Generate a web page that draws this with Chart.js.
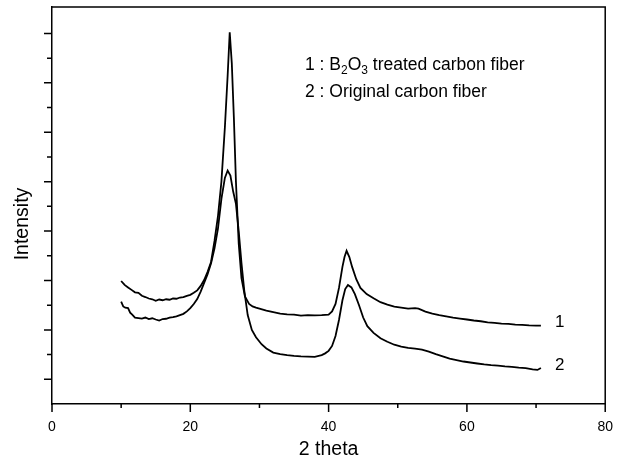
<!DOCTYPE html>
<html>
<head>
<meta charset="utf-8">
<script src="https://cdn.jsdelivr.net/npm/chart.js@4"></script>
<style>
html, body { margin: 0; padding: 0; background: #fff; }
#wrap { width: 628px; height: 461px; }
</style>
</head>
<body>
<div id="wrap"><canvas id="xrdChart" width="628" height="461"></canvas></div>
<script>
// curve 1 : B2O3 treated carbon fiber
const theta1 = [10, 10.5, 11, 11.5, 12, 12.5, 13, 13.5, 14, 14.5, 15, 15.5, 16, 16.5, 17, 17.5, 18, 18.5, 19, 19.5,
    20, 20.5, 21, 21.5, 22, 22.5, 23, 23.5, 24, 24.5, 25, 25.4, 25.7, 26.0, 26.3, 26.6, 27.0, 27.4, 27.9, 28.5,
    29, 29.5, 30, 31, 32, 33, 34, 35, 36, 37, 38, 39, 40, 40.5, 41, 41.5, 42, 42.3, 42.6, 43,
    43.4, 44, 44.6, 45.5, 46.5, 47.5, 48.5, 49.5, 50.5, 51.5, 52.5, 53, 54, 55, 56, 57, 58, 59, 60, 61,
    62, 63, 64, 65, 66, 67, 68, 69, 70, 70.7];
const intensity1 = [4.98, 4.82, 4.72, 4.62, 4.52, 4.5, 4.38, 4.33, 4.27, 4.24, 4.18, 4.23, 4.2, 4.24, 4.22, 4.27, 4.26, 4.31, 4.33, 4.38,
    4.42, 4.5, 4.6, 4.78, 5.02, 5.35, 5.75, 6.6, 7.6, 9.0, 11.2, 13.3, 15.05, 13.8, 11.6, 9.0, 6.5, 5.1, 4.35, 4.05,
    3.95, 3.9, 3.86, 3.78, 3.72, 3.66, 3.63, 3.62, 3.58, 3.6, 3.59, 3.6, 3.62, 3.75, 4.05, 4.7, 5.55, 5.95, 6.2, 5.95,
    5.55, 5.05, 4.7, 4.45, 4.28, 4.12, 4.02, 3.94, 3.9, 3.86, 3.88, 3.86, 3.74, 3.66, 3.6, 3.55, 3.5, 3.46, 3.42, 3.38,
    3.35, 3.3, 3.28, 3.25, 3.24, 3.21, 3.2, 3.18, 3.17, 3.17];

// curve 2 : original carbon fiber
const theta2 = [10, 10.3, 10.6, 11, 11.3, 11.6, 12, 12.5, 13, 13.5, 14, 14.5, 15, 15.5, 16, 16.5, 17, 17.5, 18, 18.5,
    19, 19.5, 20, 20.5, 21, 21.5, 22, 22.5, 23, 23.5, 24, 24.5, 25, 25.4, 25.8, 26.2, 26.6, 27.0, 27.4, 27.8,
    28.3, 28.9, 29.5, 30.3, 31, 32, 33, 34, 35, 36, 37, 38, 39, 39.5, 40, 40.5, 41, 41.5, 42, 42.4,
    42.8, 43.3, 43.8, 44.4, 45, 45.6, 46.5, 47.5, 48.5, 49.5, 50.5, 51.5, 52.5, 53.5, 54.5, 55.5, 56.5, 57.5, 58.5, 59.5,
    60.5, 61.5, 62.5, 63.5, 64.5, 65.5, 66.5, 67.5, 68.5, 69.5, 70.2, 70.7];
const intensity2 = [4.14, 3.95, 3.9, 3.88, 3.7, 3.62, 3.5, 3.48, 3.46, 3.5, 3.44, 3.47, 3.42, 3.38, 3.44, 3.45, 3.5, 3.52, 3.55, 3.6,
    3.65, 3.75, 3.88, 4.05, 4.25, 4.55, 4.9, 5.25, 5.7, 6.3, 7.1, 8.3, 9.15, 9.45, 9.25, 8.6, 8.1, 7.0, 5.7, 4.6,
    3.6, 3.0, 2.7, 2.42, 2.25, 2.08, 2.02, 1.98, 1.95, 1.93, 1.92, 1.91, 1.98, 2.05, 2.15, 2.35, 2.75, 3.4, 4.2, 4.65,
    4.82, 4.72, 4.45, 4.0, 3.5, 3.15, 2.88, 2.66, 2.52, 2.4, 2.32, 2.27, 2.24, 2.2, 2.12, 2.02, 1.93, 1.84, 1.78, 1.72,
    1.68, 1.64, 1.6, 1.57, 1.55, 1.52, 1.5, 1.47, 1.45, 1.4, 1.38, 1.46];

const curveLabels = ["1", "2"];
const xMajorTicks = [0, 20, 40, 60, 80];
const xMinorTicks = [10, 30, 50, 70];
const yTicks = [1, 2, 3, 4, 5, 6, 7, 8, 9, 10, 11, 12, 13, 14, 15];

const FONT = "'Liberation Sans', Arial, sans-serif";

function toPoints(xs, ys) {
    return xs.map((x, i) => ({ x: x, y: ys[i] }));
}

// axes box, tick marks and annotation texts
const extrasPlugin = {
    id: "extras",
    afterDraw(chart) {
        const ctx = chart.ctx;
        const area = chart.chartArea;
        const xs = chart.scales.x;
        const ys = chart.scales.y;

        ctx.save();
        ctx.strokeStyle = "#000";
        ctx.lineWidth = 1.5;

        ctx.beginPath();
        ctx.moveTo(area.left, area.top);
        ctx.lineTo(area.right, area.top);
        ctx.lineTo(area.right, area.bottom);
        ctx.stroke();

        ctx.beginPath();
        xMajorTicks.forEach(v => {
            const px = xs.getPixelForValue(v);
            ctx.moveTo(px, area.bottom);
            ctx.lineTo(px, area.bottom + 8);
        });
        xMinorTicks.forEach(v => {
            const px = xs.getPixelForValue(v);
            ctx.moveTo(px, area.bottom);
            ctx.lineTo(px, area.bottom + 4);
        });
        yTicks.forEach(v => {
            const py = ys.getPixelForValue(v);
            const len = v % 2 === 1 ? 8 : 5;
            ctx.moveTo(area.left, py);
            ctx.lineTo(area.left - len, py);
        });
        ctx.stroke();

        ctx.fillStyle = "#000";

        // y title
        ctx.save();
        ctx.translate(23, 224);
        ctx.rotate(-Math.PI / 2);
        ctx.font = "19.5px " + FONT;
        ctx.textAlign = "center";
        ctx.textBaseline = "middle";
        ctx.fillText("Intensity", 0, 0);
        ctx.restore();

        // legend lines
        ctx.textAlign = "left";
        ctx.textBaseline = "alphabetic";
        let x = 305;
        const base1 = 70;
        const parts = [
            ["1 : B", 17.5, 0],
            ["2", 12, 4],
            ["O", 17.5, 0],
            ["3", 12, 4],
            [" treated carbon fiber", 17.5, 0]
        ];
        parts.forEach(p => {
            ctx.font = p[1] + "px " + FONT;
            ctx.fillText(p[0], x, base1 + p[2]);
            x += ctx.measureText(p[0]).width;
        });
        ctx.font = "17.5px " + FONT;
        ctx.fillText("2 : Original carbon fiber", 305, 97);

        // curve end labels
        ctx.textBaseline = "middle";
        ctx.font = "17px " + FONT;
        chart.data.datasets.forEach((ds, i) => {
            const last = ds.data[ds.data.length - 1];
            ctx.fillText(curveLabels[i], xs.getPixelForValue(last.x) + 14, ys.getPixelForValue(last.y) - 3);
        });

        ctx.restore();
    }
};

new Chart(document.getElementById("xrdChart"), {
    type: "line",
    data: {
        datasets: [
            {
                label: "B2O3 treated carbon fiber",
                data: toPoints(theta1, intensity1),
                borderColor: "#000",
                borderWidth: 1.8,
                pointRadius: 0,
                tension: 0,
                fill: false
            },
            {
                label: "Original carbon fiber",
                data: toPoints(theta2, intensity2),
                borderColor: "#000",
                borderWidth: 1.8,
                pointRadius: 0,
                tension: 0,
                fill: false
            }
        ]
    },
    options: {
        responsive: false,
        animation: false,
        devicePixelRatio: 1,
        layout: {
            padding: { top: 7, right: 19, left: 0, bottom: 0 }
        },
        plugins: {
            legend: { display: false },
            tooltip: { enabled: false }
        },
        scales: {
            x: {
                type: "linear",
                min: 0,
                max: 80,
                grid: { display: false, drawTicks: false },
                border: { display: true, color: "#000", width: 1.5 },
                ticks: {
                    stepSize: 20,
                    padding: 15,
                    maxRotation: 0,
                    color: "#000",
                    font: { family: FONT, size: 14 }
                },
                title: {
                    display: true,
                    text: "2 theta",
                    color: "#000",
                    font: { family: FONT, size: 19.5 },
                    padding: { top: 0, bottom: 0 }
                },
                afterFit(scale) {
                    scale.height = 57;
                }
            },
            y: {
                type: "linear",
                min: 0,
                max: 16.07,
                grid: { display: false, drawTicks: false },
                border: { display: true, color: "#000", width: 1.5 },
                ticks: { display: false },
                afterFit(scale) {
                    scale.width = 52;
                }
            }
        }
    },
    plugins: [extrasPlugin]
});
</script>
</body>
</html>
